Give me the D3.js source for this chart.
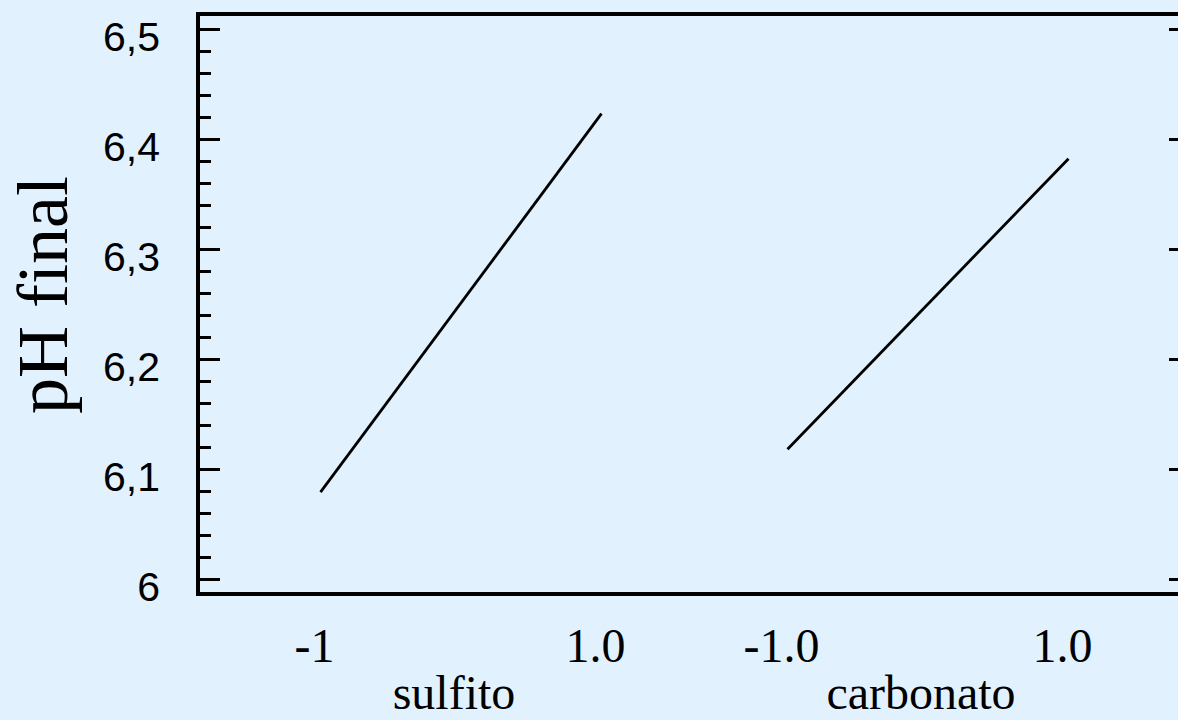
<!DOCTYPE html>
<html>
<head>
<meta charset="utf-8">
<script src="https://cdn.jsdelivr.net/npm/d3@7/dist/d3.min.js"></script>
<style>
  html, body { margin: 0; padding: 0; background: #e1f2fe; }
  svg { display: block; }
</style>
</head>
<body>
<svg id="chart" width="1178" height="720"></svg>
<script>
// Main effects on final pH
const factors = ["sulfito", "carbonato"];
const levels = [-1, 1];
const sulfitoMeans = [6.079, 6.423];
const carbonatoMeans = [6.118, 6.382];
const sulfitoTickLabels = ["-1", "1.0"];
const carbonatoTickLabels = ["-1.0", "1.0"];
const yMajorTicks = [6.0, 6.1, 6.2, 6.3, 6.4, 6.5];
const yMajorLabels = ["6", "6,1", "6,2", "6,3", "6,4", "6,5"];
const yMinorTicks = [6.02, 6.04, 6.06, 6.08, 6.12, 6.14, 6.16, 6.18,
                     6.22, 6.24, 6.26, 6.28, 6.32, 6.34, 6.36, 6.38,
                     6.42, 6.44, 6.46, 6.48];
const yTitle = "pH final";

const series = [
  { factor: factors[0], means: sulfitoMeans, labels: sulfitoTickLabels },
  { factor: factors[1], means: carbonatoMeans, labels: carbonatoTickLabels }
];

const frame = { left: 198, top: 14, right: 1191, bottom: 594 };

const svg = d3.select("#chart");

const y = d3.scaleLinear()
  .domain([5.9864, 6.5136])
  .range([frame.bottom, frame.top]);

// centre of each factor's panel, and level offset inside a panel
const xPanel = d3.scalePoint().domain(factors).range([461, 928]);
const xLevel = d3.scaleLinear().domain([-1, 1]).range([-140.5, 140.5]);

// inward ticks on the left edge, majors only on the right edge
const leftMinor = d3.axisRight(y).tickValues(yMinorTicks).tickSize(13).tickFormat("");
const leftMajor = d3.axisRight(y).tickValues(yMajorTicks).tickSize(22).tickFormat("");
const rightMajor = d3.axisLeft(y).tickValues(yMajorTicks).tickSize(22).tickFormat("");

function styleTicks(g) {
  g.select(".domain").remove();
  g.selectAll(".tick line")
    .attr("stroke", "#000")
    .attr("stroke-width", 3.5)
    .attr("shape-rendering", "crispEdges");
}

svg.append("g").attr("transform", `translate(${frame.left},0)`).call(leftMinor).call(styleTicks);
svg.append("g").attr("transform", `translate(${frame.left},0)`).call(leftMajor).call(styleTicks);
svg.append("g").attr("transform", `translate(${frame.right},0)`).call(rightMajor).call(styleTicks);

// plot frame
svg.append("rect")
  .attr("x", frame.left)
  .attr("y", frame.top)
  .attr("width", frame.right - frame.left)
  .attr("height", frame.bottom - frame.top)
  .attr("fill", "none")
  .attr("stroke", "#000")
  .attr("stroke-width", 4)
  .attr("shape-rendering", "crispEdges");

// y tick labels
svg.append("g")
  .selectAll("text")
  .data(yMajorTicks)
  .join("text")
  .attr("x", 160)
  .attr("y", d => y(d) + 22)
  .attr("text-anchor", "end")
  .attr("font-family", "'Liberation Sans', Arial, sans-serif")
  .attr("font-size", 41)
  .attr("fill", "#000")
  .text((d, i) => yMajorLabels[i]);

// y axis title
svg.append("text")
  .attr("transform", "translate(67,295) rotate(-90)")
  .attr("text-anchor", "middle")
  .attr("font-family", "'Liberation Serif', 'Times New Roman', serif")
  .attr("font-size", 72)
  .attr("fill", "#000")
  .text(yTitle);

// effect lines
const line = d3.line()
  .x(d => d.x)
  .y(d => y(d.v));

series.forEach(s => {
  const cx = xPanel(s.factor);
  const pts = levels.map((lv, i) => ({ x: cx + xLevel(lv), v: s.means[i] }));

  svg.append("path")
    .datum(pts)
    .attr("d", line)
    .attr("fill", "none")
    .attr("stroke", "#000")
    .attr("stroke-width", 2.8);

  svg.append("g")
    .selectAll("text")
    .data(levels)
    .join("text")
    .attr("x", lv => cx + xLevel(lv) - 6)
    .attr("y", 662)
    .attr("text-anchor", "middle")
    .attr("font-family", "'Liberation Serif', 'Times New Roman', serif")
    .attr("font-size", 48)
    .attr("fill", "#000")
    .text((lv, i) => s.labels[i]);

  svg.append("text")
    .attr("x", cx - 7)
    .attr("y", 709)
    .attr("text-anchor", "middle")
    .attr("font-family", "'Liberation Serif', 'Times New Roman', serif")
    .attr("font-size", 48)
    .attr("fill", "#000")
    .text(s.factor);
});
</script>
</body>
</html>
